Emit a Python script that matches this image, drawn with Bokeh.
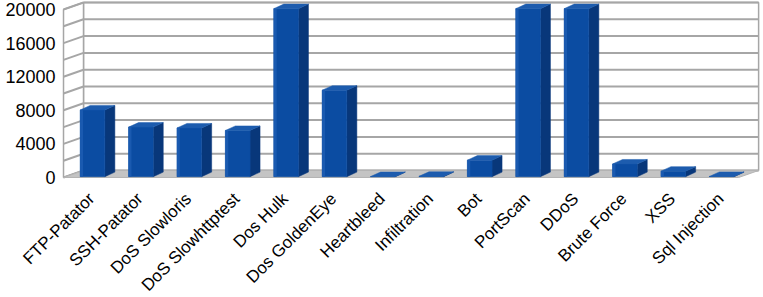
import math
from bokeh.plotting import figure
from bokeh.models import Range1d
from bokeh.core.properties import value
from bokeh.embed import file_html
from bokeh.resources import INLINE

categories = ["FTP-Patator", "SSH-Patator", "DoS Slowloris", "DoS Slowhttptest",
              "Dos Hulk", "Dos GoldenEye", "Heartbleed", "Infiltration", "Bot",
              "PortScan", "DDoS", "Brute Force", "XSS", "Sql Injection"]
counts = [7938, 5897, 5796, 5499, 20000, 10293, 11, 36, 1966, 20000, 20000, 1507, 652, 21]
y_ticks = [0, 4000, 8000, 12000, 16000, 20000]
y_tick_labels = ["0", "4000", "8000", "12000", "16000", "20000"]
grid_values = list(range(0, 20001, 2000))

# 3D geometry (data units)
X0, X1 = -0.599, 13.35         # front left / right of floor
DX, DY = 0.413, 833            # wall depth offset
BW = 0.51                      # bar front width
BDX, BDY = 0.207, 540          # bar depth offset
BOX, BOY = 0.0, 100            # bar placement behind front edge
YLAB_X = -0.764                # right edge of value labels
XLAB_Y = -2200                 # anchor of category labels

p = figure(width=763, height=297, output_backend="svg", toolbar_location=None,
           x_range=Range1d(-1.901, 13.864), y_range=Range1d(-14286, 21071),
           min_border_left=0, min_border_right=0, min_border_top=0, min_border_bottom=0)
p.outline_line_color = None
p.grid.visible = False
p.axis.visible = False
p.background_fill_color = "white"
p.border_fill_color = "white"

GRID = "#a6a6a6"
# back wall
p.patch([X0 + DX, X1 + DX, X1 + DX, X0 + DX], [DY, DY, 20000 + DY, 20000 + DY],
        fill_color="white", line_color=GRID, line_width=1.5)
# left wall
p.patch([X0, X0 + DX, X0 + DX, X0], [0, DY, 20000 + DY, 20000],
        fill_color="white", line_color=GRID, line_width=1.5)
# grid lines on back and left walls
p.segment(x0=[X0 + DX] * len(grid_values), y0=[v + DY for v in grid_values],
          x1=[X1 + DX] * len(grid_values), y1=[v + DY for v in grid_values],
          line_color=GRID, line_width=2)
p.segment(x0=[X0] * len(grid_values), y0=grid_values,
          x1=[X0 + DX] * len(grid_values), y1=[v + DY for v in grid_values],
          line_color=GRID, line_width=2)
# floor
p.patch([X0, X1, X1 + DX, X0 + DX], [0, 0, DY, DY],
        fill_color="#c4c4c4", line_color="#b4b4b4", line_width=1)

# bars
idx = list(range(len(categories)))
fl = [i - BW / 2 + BOX for i in idx]
fr = [i + BW / 2 + BOX for i in idx]
side_xs = [[r, r + BDX, r + BDX, r] for r in fr]
side_ys = [[BOY, BOY + BDY, v + BOY + BDY, v + BOY] for v in counts]
top_xs = [[l, r, r + BDX, l + BDX] for l, r in zip(fl, fr)]
top_ys = [[v + BOY, v + BOY, v + BOY + BDY, v + BOY + BDY] for v in counts]
p.patches(side_xs, side_ys, fill_color="#08377a", line_color="#08377a", line_width=0.5)
p.quad(left=fl, right=fr, bottom=[BOY] * len(idx), top=[v + BOY for v in counts],
       fill_color="#0b4ca2", line_color="#0b4ca2", line_width=0.5)
p.quad(left=fl, right=[l + 0.06 for l in fl], bottom=[BOY] * len(idx),
       top=[v + BOY for v in counts], fill_color="#1a5ab0", line_color=None)
p.patches(top_xs, top_ys, fill_color="#1d5cae", line_color="#1d5cae", line_width=0.5)

# value labels (y axis)
p.text(x=[YLAB_X] * len(y_ticks), y=y_ticks, text=y_tick_labels,
       text_font=value("Liberation Sans"), text_font_size="18px", text_color="black",
       text_align="right", text_baseline="middle")

# category labels (x axis), rotated 45 degrees
p.text(x=[i - 0.02 for i in idx], y=[XLAB_Y] * len(idx), text=categories, angle=math.pi / 4,
       text_font=value("Liberation Sans"), text_font_size="17px", text_color="black",
       text_align="right", text_baseline="middle")

open("out.html", "w").write(file_html(p, INLINE))
